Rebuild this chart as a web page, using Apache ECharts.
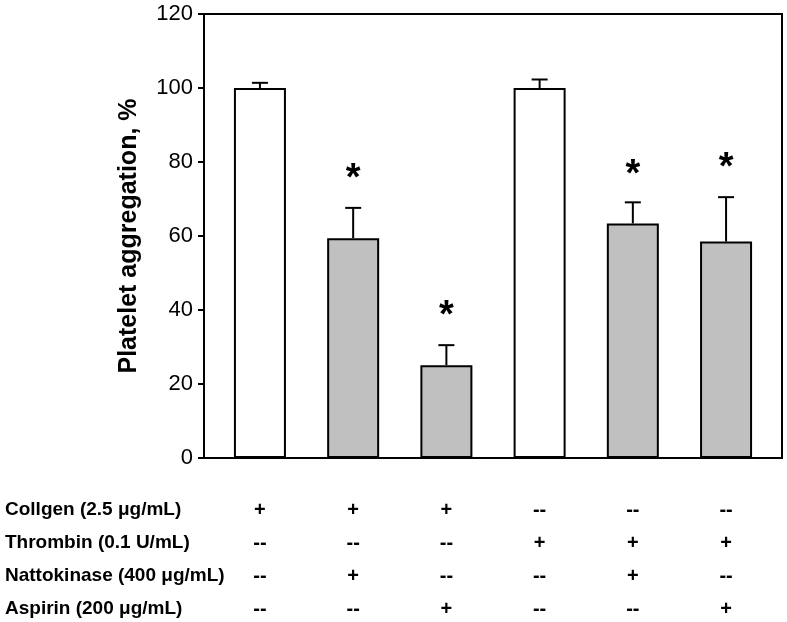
<!DOCTYPE html>
<html>
<head>
<meta charset="utf-8">
<script src="https://cdn.jsdelivr.net/npm/echarts@6/dist/echarts.min.js"></script>
<style>html,body{margin:0;padding:0;background:#fff}#c{width:787px;height:622px}</style>
</head>
<body>
<div id="c"></div>
<script>
// ---- data ----
var groups = [1, 2, 3, 4, 5, 6];
var values = [100, 59.4, 25.1, 100, 63.4, 58.5];
var errors = [1.4, 8.2, 5.4, 2.3, 5.7, 12.0];
var fills = ['#ffffff', '#c0c0c0', '#c0c0c0', '#ffffff', '#c0c0c0', '#c0c0c0'];
var starY = [null, 77.4, 40.5, null, 78.6, 80.4];
var yTicks = [0, 20, 40, 60, 80, 100, 120];
var rowLabels = ['Collgen (2.5 \u03bcg/mL)', 'Thrombin (0.1 U/mL)', 'Nattokinase (400 \u03bcg/mL)', 'Aspirin (200 \u03bcg/mL)'];
var collagen    = ['+', '+', '+', '--', '--', '--'];
var thrombin    = ['--', '--', '--', '+', '+', '+'];
var nattokinase = ['--', '+', '--', '--', '+', '--'];
var aspirin     = ['--', '--', '+', '--', '--', '+'];

var FONT = '"Liberation Sans", Arial, sans-serif';
var chart = echarts.init(document.getElementById('c'));

var barData = groups.map(function (g, i) {
  return { value: [g, values[i]], itemStyle: { color: fills[i] } };
});
var errData = groups.map(function (g, i) { return [g, values[i], errors[i]]; });
var starData = [];
groups.forEach(function (g, i) { if (starY[i] != null) starData.push([g, starY[i]]); });
var tableRows = [collagen, thrombin, nattokinase, aspirin];
var tableData = [];
tableRows.forEach(function (row, r) {
  row.forEach(function (s, i) { tableData.push([groups[i], r, s]); });
});

chart.setOption({
  animation: false,
  grid: [
    { left: 204, right: 5, top: 14, height: 444, show: true, borderColor: '#000', borderWidth: 2, backgroundColor: 'transparent' },
    { left: 204, right: 5, top: 510, height: 99 }
  ],
  xAxis: [
    { type: 'value', gridIndex: 0, min: 0.4, max: 6.6, axisLabel: { show: false }, axisTick: { show: false }, splitLine: { show: false },
      axisLine: { show: true, lineStyle: { color: '#000', width: 2 } } },
    { type: 'value', gridIndex: 1, min: 0.4, max: 6.6, show: false }
  ],
  yAxis: [
    { type: 'value', gridIndex: 0, min: 0, max: 120, interval: 20,
      name: 'Platelet aggregation, %', nameLocation: 'middle', nameGap: 62,
      nameTextStyle: { fontFamily: FONT, fontWeight: 'bold', fontSize: 25, color: '#000' },
      axisLine: { show: true, lineStyle: { color: '#000', width: 2 } },
      axisTick: { show: true, length: 6, lineStyle: { color: '#000', width: 2 } },
      axisLabel: { fontFamily: FONT, fontSize: 22, color: '#000', margin: 11,
        formatter: function (v) { return yTicks.indexOf(v) >= 0 ? String(v) : ''; } },
      splitLine: { show: false } },
    { type: 'category', gridIndex: 1, data: rowLabels, inverse: true, boundaryGap: false,
      axisLine: { show: false }, axisTick: { show: false }, splitLine: { show: false },
      axisLabel: { align: 'left', margin: 199, fontFamily: FONT, fontWeight: 'bold', fontSize: 19, color: '#000' } }
  ],
  series: [
    { type: 'bar', xAxisIndex: 0, yAxisIndex: 0, barWidth: 52, data: barData,
      itemStyle: { borderColor: '#000', borderWidth: 2 }, z: 2 },
    { type: 'custom', xAxisIndex: 0, yAxisIndex: 0, data: errData, z: 3,
      renderItem: function (params, api) {
        var x = api.value(0), y = api.value(1), e = api.value(2);
        var p0 = api.coord([x, y]), p1 = api.coord([x, y + e]);
        return { type: 'group', children: [
          { type: 'line', shape: { x1: p0[0], y1: p0[1], x2: p1[0], y2: p1[1] }, style: { stroke: '#000', lineWidth: 2 } },
          { type: 'line', shape: { x1: p1[0] - 8, y1: p1[1], x2: p1[0] + 8, y2: p1[1] }, style: { stroke: '#000', lineWidth: 2 } }
        ] };
      } },
    { type: 'custom', xAxisIndex: 0, yAxisIndex: 0, data: starData, z: 4,
      renderItem: function (params, api) {
        var p = api.coord([api.value(0), api.value(1)]);
        return { type: 'text', style: { text: '*', x: p[0], y: p[1] + 8, align: 'center', verticalAlign: 'middle',
          font: 'bold 38px ' + FONT, fill: '#000' } };
      } },
    { type: 'custom', xAxisIndex: 1, yAxisIndex: 1, data: tableData, z: 4,
      encode: { x: 0, y: 1 },
      renderItem: function (params, api) {
        var p = api.coord([api.value(0), api.value(1)]);
        var s = tableData[params.dataIndex][2];
        return { type: 'text', style: { text: s, x: p[0], y: p[1], align: 'center', verticalAlign: 'middle',
          font: 'bold 20px ' + FONT, fill: '#000' } };
      } }
  ]
});
</script>
</body>
</html>
